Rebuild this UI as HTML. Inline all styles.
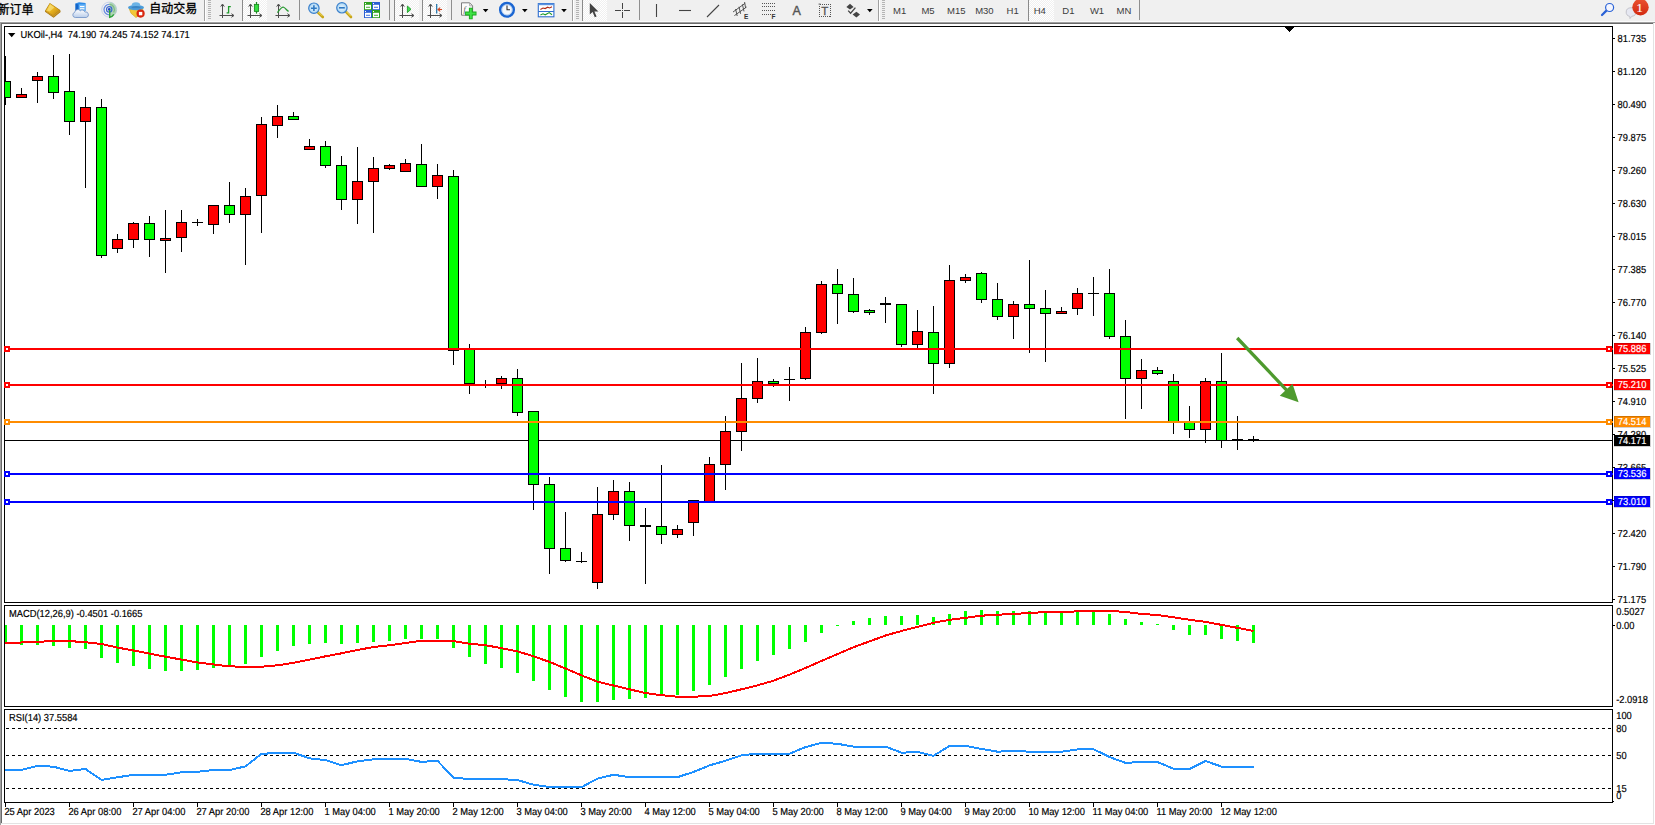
<!DOCTYPE html>
<html lang="zh"><head><meta charset="utf-8"><title>UKOil-,H4</title>
<style>
html,body{margin:0;padding:0;}
body{width:1655px;height:825px;overflow:hidden;background:#fff;position:relative;font-family:"Liberation Sans","Noto Sans CJK SC",sans-serif;}
#tb{position:absolute;left:0;top:0;width:1655px;height:21px;background:#f0f0f0;overflow:hidden;}
#frame{position:absolute;left:0;top:21px;width:1655px;height:804px;background:#fff;}
.ln{position:absolute;}
#chart{position:absolute;left:0;top:0;}
#tb .t{position:absolute;top:0;height:20px;line-height:19px;font-size:12px;color:#000;white-space:nowrap;}
#tb .tf{position:absolute;top:0;height:20px;line-height:20px;font-size:10px;color:#222;white-space:nowrap;text-align:center;width:28px;}
#tb svg{position:absolute;top:0;left:0;}
</style></head><body>
<div id="tb"><svg width="1655" height="21" viewBox="0 0 1655 21">
<defs>
<pattern id="chk" width="2" height="2" patternUnits="userSpaceOnUse"><rect width="2" height="2" fill="#f0f0f0"/><rect width="1" height="1" fill="#fff"/><rect x="1" y="1" width="1" height="1" fill="#fff"/></pattern>
<linearGradient id="gold" x1="0" y1="0" x2="1" y2="1"><stop offset="0" stop-color="#f7d44a"/><stop offset="0.5" stop-color="#e8b321"/><stop offset="1" stop-color="#b9820c"/></linearGradient>
<linearGradient id="redb" x1="0" y1="0" x2="0" y2="1"><stop offset="0" stop-color="#ea5230"/><stop offset="1" stop-color="#d22a10"/></linearGradient>
<linearGradient id="cloud" x1="0" y1="0" x2="0" y2="1"><stop offset="0" stop-color="#ffffff"/><stop offset="1" stop-color="#b9cdea"/></linearGradient>
<radialGradient id="lens"><stop offset="0" stop-color="#eaf6ff"/><stop offset="1" stop-color="#a9d4f2"/></radialGradient>
</defs>
<g font-family="'Liberation Sans','Noto Sans CJK SC',sans-serif">
<text x="-2.6" y="13.6" font-size="12px" fill="#000" stroke="#000" stroke-width="0.3">新订单</text>
<text x="149.3" y="13.2" font-size="12px" fill="#000" stroke="#000" stroke-width="0.3">自动交易</text>
</g>
<!-- book icon -->
<g>
<polygon points="49.8,3 60.2,10 60.6,12 53.6,17.8 45,11.8 45.2,10.6" fill="#a87508"/>
<polygon points="49.9,3.6 59.6,10.2 53,15.6 45.8,10.8" fill="url(#gold)"/>
<polygon points="53,15.6 59.6,10.2 60,11.6 53.6,17 46,11.9 45.8,10.8" fill="#c9972a"/>
<polygon points="50.2,4.6 54.4,7.4 49.6,11.6 47,10.4" fill="#fbe88a" opacity="0.6"/>
</g>
<!-- server + cloud -->
<g>
<polygon points="75.5,3.6 79,2.2 85.6,3 85.6,11 75.5,11" fill="#2d8be8"/>
<polygon points="75.5,3.6 78.2,4.6 78.2,11 75.5,11" fill="#1565c8"/>
<rect x="79" y="4.4" width="6.2" height="6.6" fill="#6db6f7"/>
<rect x="80" y="6" width="4.4" height="1.1" fill="#fff"/><rect x="80" y="8.2" width="4.4" height="1.1" fill="#fff"/>
<path d="M75.3 17.5 a2.6 2.6 0 0 1 -0.6 -5.1 a3.1 3.1 0 0 1 5.6 -1.6 a2.8 2.8 0 0 1 4.6 1.2 a2.8 2.8 0 0 1 1.4 5.5 z" fill="url(#cloud)" stroke="#6d8fc4" stroke-width="0.8"/>
</g>
<!-- signal -->
<g fill="none">
<circle cx="109.2" cy="9.6" r="7.5" stroke="#c3cde6" stroke-width="0.9"/>
<path d="M109.6 2.3 A7.4 7.4 0 0 1 112.6 16.2 L109.8 17.2 Z" fill="#9fd0a6" opacity="0.8"/>
<path d="M109.2 4.4 A5.2 5.2 0 0 0 109.2 14.8" stroke="#6a8ee0" stroke-width="1.3"/>
<path d="M109.2 4.4 A5.2 5.2 0 0 1 113.6 12.4" stroke="#7fb78a" stroke-width="1.2"/>
<circle cx="109.2" cy="9.4" r="2.7" stroke="#3d69cf" stroke-width="1.2"/>
<circle cx="109.2" cy="9.4" r="1.3" fill="#2447c4"/>
<path d="M109.7 10 L109.7 17.3 C111.6 16.9 113 15.8 113.8 14.4" stroke="#2fa33a" stroke-width="1.4"/>
</g>
<!-- hat / expert -->
<g>
<polygon points="129.2,8.6 143,8.6 141.4,13.4 136,17.6 131,13.2" fill="#f2c838" stroke="#d3a112" stroke-width="0.6"/>
<ellipse cx="136" cy="7.6" rx="8" ry="2.7" fill="#4c9cd9"/>
<ellipse cx="136" cy="5.4" rx="4.3" ry="3.2" fill="#6bb3e6"/>
<ellipse cx="136" cy="7.2" rx="4.6" ry="1.3" fill="#3a86c6"/>
<circle cx="140.6" cy="13.6" r="4.1" fill="#d8260f"/>
<rect x="138.9" y="11.9" width="3.4" height="3.4" fill="#fff"/>
</g>
<!-- separator + grip -->
<rect x="204" y="0" width="1" height="21" fill="#a0a0a0"/><rect x="205" y="0" width="1" height="21" fill="#fff"/>
<g fill="#b4b4b4"><rect x="208" y="0" width="3" height="1"/><rect x="208" y="2" width="3" height="1"/><rect x="208" y="4" width="3" height="1"/><rect x="208" y="6" width="3" height="1"/><rect x="208" y="8" width="3" height="1"/><rect x="208" y="10" width="3" height="1"/><rect x="208" y="12" width="3" height="1"/><rect x="208" y="14" width="3" height="1"/><rect x="208" y="16" width="3" height="1"/><rect x="208" y="18" width="3" height="1"/></g>
<!-- bar chart icon -->
<g stroke="#4d4d4d" stroke-width="1" fill="none">
<path d="M222.5 4.5 V18 M219.5 15.5 H233.5"/><path d="M220.7 6.6 L222.5 4 L224.3 6.6 M231.4 13.7 L234 15.5 L231.4 17.3" />
<path d="M226.6 12.8 H228.6 V6.6 H230.8" stroke="#1f9a2a" stroke-width="1.3"/>
</g>
<!-- candle icon pressed -->
<rect x="242" y="0" width="25" height="21" fill="url(#chk)"/><rect x="242" y="0" width="1" height="21" fill="#8a8a8a"/>
<g stroke="#4d4d4d" stroke-width="1" fill="none">
<path d="M250.5 4.5 V18 M247.5 15.5 H261.5"/><path d="M248.7 6.6 L250.5 4 L252.3 6.6 M259.4 13.7 L262 15.5 L259.4 17.3"/>
<path d="M256.5 2 V13.6" stroke="#1f8a24" stroke-width="1.2"/><rect x="254.4" y="4.4" width="4.2" height="7" fill="#35e040" stroke="#1f8a24" stroke-width="0.9"/>
</g>
<!-- line chart icon -->
<g stroke="#4d4d4d" stroke-width="1" fill="none">
<path d="M278.5 4.5 V18 M275.5 15.5 H289.5"/><path d="M276.7 6.6 L278.5 4 L280.3 6.6 M287.4 13.7 L290 15.5 L287.4 17.3"/>
<path d="M277.4 12.6 C280 9 282 6.6 283.6 7.2 C285.4 7.9 286.6 10.4 288.6 11.4" stroke="#2a9a33" stroke-width="1.2"/>
</g>
<rect x="299" y="0" width="1" height="20" fill="#8f8f8f"/>
<!-- zoom in -->
<g>
<path d="M317.6 12 L322.8 17" stroke="#c7a415" stroke-width="2.6" stroke-linecap="round"/><path d="M318 11.6 L322.6 16.2" stroke="#f2dc63" stroke-width="1"/>
<circle cx="313.9" cy="8.2" r="5.2" fill="url(#lens)" stroke="#3b80cc" stroke-width="1.2"/>
<path d="M311 8.2 H316.8 M313.9 5.3 V11.1" stroke="#2f78c2" stroke-width="1.6"/>
</g>
<!-- zoom out -->
<g>
<path d="M345.8 11.6 L351 17" stroke="#c7a415" stroke-width="2.6" stroke-linecap="round"/><path d="M346.2 11.4 L350.8 16.2" stroke="#f2dc63" stroke-width="1"/>
<circle cx="341.9" cy="7.8" r="5.2" fill="url(#lens)" stroke="#3b80cc" stroke-width="1.2"/>
<path d="M339 7.8 H344.8" stroke="#2f78c2" stroke-width="1.6"/>
</g>
<!-- grid icon -->
<g>
<rect x="364" y="2" width="8" height="8" fill="#2fa01f"/><rect x="372" y="2" width="8" height="8" fill="#2a5fd4"/>
<rect x="364" y="10" width="8" height="8" fill="#2a5fd4"/><rect x="372" y="10" width="8" height="8" fill="#2fa01f"/>
<g fill="#fff"><rect x="365" y="4.8" width="6" height="4.4"/><rect x="373" y="4.8" width="6" height="4.4"/><rect x="365" y="12.8" width="6" height="4.4"/><rect x="373" y="12.8" width="6" height="4.4"/><rect x="365" y="3" width="1" height="1"/><rect x="373" y="3" width="1" height="1"/><rect x="365" y="11" width="1" height="1"/><rect x="373" y="11" width="1" height="1"/></g>
<g><rect x="366" y="6.8" width="4" height="0.9" fill="#2fa01f"/><rect x="374" y="6.8" width="4" height="0.9" fill="#2a5fd4"/><rect x="366" y="14.8" width="4" height="0.9" fill="#2a5fd4"/><rect x="374" y="14.8" width="4" height="0.9" fill="#2fa01f"/></g>
</g>
<rect x="389" y="0" width="1" height="20" fill="#8f8f8f"/>
<!-- autoscroll pressed -->
<rect x="394" y="0" width="25" height="21" fill="url(#chk)"/><rect x="394" y="0" width="1" height="21" fill="#8a8a8a"/>
<g stroke="#4d4d4d" stroke-width="1" fill="none">
<path d="M402.5 4.5 V18 M399.5 15.5 H413.5"/><path d="M400.7 6.6 L402.5 4 L404.3 6.6 M411.4 13.7 L414 15.5 L411.4 17.3"/>
<polygon points="407.4,6 411,9.3 407.4,12.6" fill="#3fe04a" stroke="#1f9a2a" stroke-width="0.9"/>
</g>
<!-- shift pressed -->
<rect x="422" y="0" width="25" height="21" fill="url(#chk)"/><rect x="422" y="0" width="1" height="21" fill="#8a8a8a"/>
<g stroke="#4d4d4d" stroke-width="1" fill="none">
<path d="M430.5 4.5 V18 M427.5 15.5 H441.5"/><path d="M428.7 6.6 L430.5 4 L432.3 6.6 M439.4 13.7 L442 15.5 L439.4 17.3"/>
<path d="M436.7 4 V13.6" stroke="#1a6fa8" stroke-width="1.2"/>
<path d="M442 9.5 H438.4 M440.2 7.6 L438 9.5 L440.2 11.4" stroke="#d2451e" stroke-width="1.1"/>
</g>
<rect x="451" y="0" width="1" height="20" fill="#8f8f8f"/>
<!-- indicators -->
<g>
<path d="M461.5 2.8 H469.6 L472.6 5.8 V15.2 H461.5 Z" fill="#fbfbfb" stroke="#6e6e6e" stroke-width="0.9"/>
<path d="M469.6 2.8 V5.8 H472.6" fill="none" stroke="#9a9a9a" stroke-width="0.8"/>
<text x="463.6" y="11.6" font-size="8px" font-style="italic" font-family="'Liberation Serif',serif" fill="#555">f</text>
<path d="M470.8 7.8 V19.2 M465.1 13.5 H476.5" stroke="#18a51c" stroke-width="3.8"/><path d="M470.8 8.6 V18.4 M465.9 13.5 H475.7" stroke="#3fe245" stroke-width="2"/>
<polygon points="482.8,9 488.4,9 485.6,12.2" fill="#000"/>
</g>
<!-- clock -->
<g>
<circle cx="507" cy="9.8" r="6.8" fill="#f4f7fb" stroke="#1b66d2" stroke-width="2.5"/>
<circle cx="507" cy="9.8" r="5.2" fill="none" stroke="#9cc0ee" stroke-width="0.8"/>
<path d="M507 5.4 V9.8 H510" stroke="#333" stroke-width="1.1" fill="none"/>
<polygon points="522,9 527.6,9 524.8,12.2" fill="#000"/>
</g>
<!-- template -->
<g>
<rect x="538.3" y="3.6" width="15.6" height="13.2" fill="#fff" stroke="#2f6fcf" stroke-width="1.1"/>
<rect x="538.3" y="3.6" width="15.6" height="1.6" fill="#5b93e0"/>
<rect x="538.3" y="11" width="15.6" height="1" fill="#2f6fcf"/>
<path d="M540.4 9.4 L543 8 L545.2 8.6 L547.6 7.2 L549.6 8 L552 6.8" stroke="#b22a16" stroke-width="1.1" fill="none"/>
<path d="M540.4 15 L543 13.8 L545.2 14.8 L547.6 13.4 L549.2 12.6 L552 14.8" stroke="#1f9a2a" stroke-width="1.1" fill="none"/>
<polygon points="561.2,9 566.8,9 564,12.2" fill="#000"/>
</g>
<rect x="572" y="0" width="1" height="21" fill="#a0a0a0"/><rect x="573" y="0" width="1" height="21" fill="#fff"/>
<g fill="#b4b4b4"><rect x="576" y="0" width="3" height="1"/><rect x="576" y="2" width="3" height="1"/><rect x="576" y="4" width="3" height="1"/><rect x="576" y="6" width="3" height="1"/><rect x="576" y="8" width="3" height="1"/><rect x="576" y="10" width="3" height="1"/><rect x="576" y="12" width="3" height="1"/><rect x="576" y="14" width="3" height="1"/><rect x="576" y="16" width="3" height="1"/><rect x="576" y="18" width="3" height="1"/></g>
<!-- cursor pressed -->
<rect x="582" y="0" width="25" height="21" fill="url(#chk)"/><rect x="582" y="0" width="1" height="21" fill="#8a8a8a"/>
<polygon points="589.8,3 589.8,14.6 592.6,12 594.8,17.2 596.6,16.4 594.4,11.4 598.4,11.4" fill="#444"/>
<!-- crosshair -->
<path d="M615 10.5 H621 M624 10.5 H630 M622.5 3 V9 M622.5 12 V18" stroke="#444" stroke-width="1" fill="none"/><rect x="622" y="10" width="1" height="1" fill="#444"/>
<rect x="639" y="0" width="1" height="20" fill="#8f8f8f"/>
<path d="M656.5 4 V17" stroke="#444" stroke-width="1.1"/>
<path d="M679 10.5 H691" stroke="#444" stroke-width="1.1"/>
<path d="M707 17 L719 5" stroke="#444" stroke-width="1.1"/>
<!-- channel -->
<g stroke="#444" stroke-width="0.9" fill="none">
<path d="M733 12 L745 3.4 M734.4 15.6 L746.6 7 M735.6 9 L737.2 16 M739 6.8 L740.6 13.8 M742.4 4.4 L744 11.4 M744.6 2 L745.6 8"/>
</g>
<text x="744" y="18.6" font-size="6.5px" font-weight="bold" font-family="'Liberation Sans',sans-serif" fill="#333">E</text>
<!-- fibo -->
<g stroke="#555" stroke-width="1" stroke-dasharray="1,1" fill="none"><path d="M762 3.5 H775 M762 6.5 H775 M762 10.5 H775 M762 14.5 H771"/></g>
<text x="771.6" y="18.6" font-size="6.5px" font-weight="bold" font-family="'Liberation Sans',sans-serif" fill="#333">F</text>
<text x="792.4" y="15" font-size="12.5px" font-family="'Liberation Sans',sans-serif" fill="#555" stroke="#555" stroke-width="0.4">A</text>
<rect x="819.5" y="4.5" width="11" height="12" fill="none" stroke="#555" stroke-width="1" stroke-dasharray="1,1" shape-rendering="crispEdges"/><rect x="818.6" y="3.6" width="2" height="1" fill="#555"/>
<text x="821.2" y="15" font-size="11.5px" font-family="'Liberation Sans',sans-serif" fill="#555" stroke="#555" stroke-width="0.3">T</text>
<!-- arrows icon -->
<g fill="#444">
<polygon points="846.4,7 850,3.8 853.6,7 850,9.4"/><polygon points="852.6,14.4 856.4,11.8 860,14.4 856.4,17.6"/>
<path d="M848.2 10.6 L850.6 13.2 L855.4 7.6" stroke="#444" stroke-width="1.3" fill="none"/>
<polygon points="867,9 872.6,9 869.8,12.2" fill="#000"/>
</g>
<rect x="878" y="0" width="1" height="21" fill="#a0a0a0"/><rect x="879" y="0" width="1" height="21" fill="#fff"/>
<g fill="#b4b4b4"><rect x="882" y="0" width="3" height="1"/><rect x="882" y="2" width="3" height="1"/><rect x="882" y="4" width="3" height="1"/><rect x="882" y="6" width="3" height="1"/><rect x="882" y="8" width="3" height="1"/><rect x="882" y="10" width="3" height="1"/><rect x="882" y="12" width="3" height="1"/><rect x="882" y="14" width="3" height="1"/><rect x="882" y="16" width="3" height="1"/><rect x="882" y="18" width="3" height="1"/></g>
<!-- timeframes -->
<rect x="1028" y="0" width="26" height="21" fill="url(#chk)"/><rect x="1028" y="0" width="1" height="21" fill="#8a8a8a"/>
<g font-family="'Liberation Sans',sans-serif" font-size="9.5px" fill="#3c3c3c" text-anchor="middle">
<text x="899.7" y="13.8">M1</text><text x="928" y="13.8">M5</text><text x="956.3" y="13.8">M15</text><text x="984.4" y="13.8">M30</text><text x="1012.7" y="13.8">H1</text><text x="1039.8" y="13.8">H4</text><text x="1068.4" y="13.8">D1</text><text x="1097" y="13.8">W1</text><text x="1124" y="13.8">MN</text>
</g>
<rect x="1139" y="0" width="1" height="20" fill="#8f8f8f"/>
<!-- search -->
<g fill="none">
<path d="M1606.4 10.6 L1602 15" stroke="#2a62d6" stroke-width="2.2" stroke-linecap="round"/>
<circle cx="1609.6" cy="7.5" r="4" fill="#f4f6ff" stroke="#2a62d6" stroke-width="1.2"/>
</g>
<!-- chat + badge -->
<g>
<path d="M1626.2 12 a4.9 4.3 0 1 1 5.6 4.3 l-1.8 2.2 l-0.2 -2.1 a4.9 4.3 0 0 1 -3.6 -4.4 z" fill="#e6e8f2" stroke="#b9b9c2" stroke-width="0.8"/>
<circle cx="1640.5" cy="7.2" r="8.2" fill="url(#redb)"/>
<text x="1639.6" y="11.6" font-size="12.5px" font-family="'Liberation Serif',serif" fill="#fff" stroke="#fff" stroke-width="0.15" text-anchor="middle">1</text>
</g>
</svg>
</div>
<div class="ln" style="left:0;top:21px;width:1655px;height:1px;background:#fbfbfb"></div>
<div class="ln" style="left:0;top:22px;width:1655px;height:1px;background:#a0a0a0"></div>
<div class="ln" style="left:1px;top:23px;width:1653px;height:1px;background:#696969"></div>
<div class="ln" style="left:0;top:22px;width:1px;height:803px;background:#a0a0a0"></div>
<div class="ln" style="left:1px;top:23px;width:1px;height:801px;background:#696969"></div>
<div class="ln" style="left:1653px;top:23px;width:1px;height:801px;background:#e3e3e3"></div>
<div class="ln" style="left:1px;top:823px;width:1653px;height:1px;background:#e3e3e3"></div>
<svg id="chart" width="1655" height="825" viewBox="0 0 1655 825" shape-rendering="crispEdges"><rect x="5" y="440" width="1607" height="1" fill="#000"/><rect x="5" y="56" width="1" height="49" fill="#000"/><rect x="5" y="81" width="6" height="17" fill="#000"/><rect x="5" y="82" width="5" height="15" fill="#00ff00"/><rect x="21" y="88" width="1" height="10" fill="#000"/><rect x="16" y="94" width="11" height="4" fill="#000"/><rect x="17" y="95" width="9" height="2" fill="#ff0000"/><rect x="37" y="72" width="1" height="31" fill="#000"/><rect x="32" y="76" width="11" height="5" fill="#000"/><rect x="33" y="77" width="9" height="3" fill="#ff0000"/><rect x="53" y="55" width="1" height="44" fill="#000"/><rect x="48" y="76" width="11" height="17" fill="#000"/><rect x="49" y="77" width="9" height="15" fill="#00ff00"/><rect x="69" y="54" width="1" height="81" fill="#000"/><rect x="64" y="91" width="11" height="31" fill="#000"/><rect x="65" y="92" width="9" height="29" fill="#00ff00"/><rect x="85" y="97" width="1" height="91" fill="#000"/><rect x="80" y="107" width="11" height="15" fill="#000"/><rect x="81" y="108" width="9" height="13" fill="#ff0000"/><rect x="101" y="99" width="1" height="159" fill="#000"/><rect x="96" y="107" width="11" height="149" fill="#000"/><rect x="97" y="108" width="9" height="147" fill="#00ff00"/><rect x="117" y="234" width="1" height="19" fill="#000"/><rect x="112" y="239" width="11" height="10" fill="#000"/><rect x="113" y="240" width="9" height="8" fill="#ff0000"/><rect x="133" y="222" width="1" height="26" fill="#000"/><rect x="128" y="223" width="11" height="17" fill="#000"/><rect x="129" y="224" width="9" height="15" fill="#ff0000"/><rect x="149" y="216" width="1" height="41" fill="#000"/><rect x="144" y="223" width="11" height="17" fill="#000"/><rect x="145" y="224" width="9" height="15" fill="#00ff00"/><rect x="165" y="210" width="1" height="63" fill="#000"/><rect x="160" y="238" width="11" height="3" fill="#000"/><rect x="161" y="239" width="9" height="1" fill="#ff0000"/><rect x="181" y="210" width="1" height="42" fill="#000"/><rect x="176" y="222" width="11" height="16" fill="#000"/><rect x="177" y="223" width="9" height="14" fill="#ff0000"/><rect x="197" y="219" width="1" height="7" fill="#000"/><rect x="192" y="222" width="11" height="1" fill="#000"/><rect x="213" y="205" width="1" height="29" fill="#000"/><rect x="208" y="205" width="11" height="20" fill="#000"/><rect x="209" y="206" width="9" height="18" fill="#ff0000"/><rect x="229" y="182" width="1" height="41" fill="#000"/><rect x="224" y="205" width="11" height="10" fill="#000"/><rect x="225" y="206" width="9" height="8" fill="#00ff00"/><rect x="245" y="188" width="1" height="77" fill="#000"/><rect x="240" y="196" width="11" height="19" fill="#000"/><rect x="241" y="197" width="9" height="17" fill="#ff0000"/><rect x="261" y="117" width="1" height="116" fill="#000"/><rect x="256" y="124" width="11" height="72" fill="#000"/><rect x="257" y="125" width="9" height="70" fill="#ff0000"/><rect x="277" y="105" width="1" height="33" fill="#000"/><rect x="272" y="116" width="11" height="10" fill="#000"/><rect x="273" y="117" width="9" height="8" fill="#ff0000"/><rect x="293" y="112" width="1" height="8" fill="#000"/><rect x="288" y="116" width="11" height="4" fill="#000"/><rect x="289" y="117" width="9" height="2" fill="#00ff00"/><rect x="309" y="139" width="1" height="11" fill="#000"/><rect x="304" y="146" width="11" height="4" fill="#000"/><rect x="305" y="147" width="9" height="2" fill="#ff0000"/><rect x="325" y="141" width="1" height="27" fill="#000"/><rect x="320" y="146" width="11" height="20" fill="#000"/><rect x="321" y="147" width="9" height="18" fill="#00ff00"/><rect x="341" y="156" width="1" height="54" fill="#000"/><rect x="336" y="165" width="11" height="35" fill="#000"/><rect x="337" y="166" width="9" height="33" fill="#00ff00"/><rect x="357" y="147" width="1" height="77" fill="#000"/><rect x="352" y="181" width="11" height="19" fill="#000"/><rect x="353" y="182" width="9" height="17" fill="#ff0000"/><rect x="373" y="157" width="1" height="76" fill="#000"/><rect x="368" y="168" width="11" height="14" fill="#000"/><rect x="369" y="169" width="9" height="12" fill="#ff0000"/><rect x="389" y="164" width="1" height="6" fill="#000"/><rect x="384" y="165" width="11" height="4" fill="#000"/><rect x="385" y="166" width="9" height="2" fill="#ff0000"/><rect x="405" y="159" width="1" height="13" fill="#000"/><rect x="400" y="163" width="11" height="9" fill="#000"/><rect x="401" y="164" width="9" height="7" fill="#ff0000"/><rect x="421" y="144" width="1" height="43" fill="#000"/><rect x="416" y="164" width="11" height="23" fill="#000"/><rect x="417" y="165" width="9" height="21" fill="#00ff00"/><rect x="437" y="164" width="1" height="35" fill="#000"/><rect x="432" y="175" width="11" height="12" fill="#000"/><rect x="433" y="176" width="9" height="10" fill="#ff0000"/><rect x="453" y="170" width="1" height="195" fill="#000"/><rect x="448" y="176" width="11" height="175" fill="#000"/><rect x="449" y="177" width="9" height="173" fill="#00ff00"/><rect x="469" y="344" width="1" height="50" fill="#000"/><rect x="464" y="349" width="11" height="35" fill="#000"/><rect x="465" y="350" width="9" height="33" fill="#00ff00"/><rect x="485" y="380" width="1" height="8" fill="#000"/><rect x="480" y="384" width="11" height="2" fill="#000"/><rect x="501" y="376" width="1" height="13" fill="#000"/><rect x="496" y="378" width="11" height="6" fill="#000"/><rect x="497" y="379" width="9" height="4" fill="#ff0000"/><rect x="517" y="369" width="1" height="47" fill="#000"/><rect x="512" y="378" width="11" height="35" fill="#000"/><rect x="513" y="379" width="9" height="33" fill="#00ff00"/><rect x="533" y="411" width="1" height="99" fill="#000"/><rect x="528" y="411" width="11" height="74" fill="#000"/><rect x="529" y="412" width="9" height="72" fill="#00ff00"/><rect x="549" y="477" width="1" height="97" fill="#000"/><rect x="544" y="484" width="11" height="65" fill="#000"/><rect x="545" y="485" width="9" height="63" fill="#00ff00"/><rect x="565" y="512" width="1" height="50" fill="#000"/><rect x="560" y="548" width="11" height="13" fill="#000"/><rect x="561" y="549" width="9" height="11" fill="#00ff00"/><rect x="581" y="552" width="1" height="11" fill="#000"/><rect x="576" y="561" width="11" height="1" fill="#000"/><rect x="597" y="487" width="1" height="102" fill="#000"/><rect x="592" y="514" width="11" height="69" fill="#000"/><rect x="593" y="515" width="9" height="67" fill="#ff0000"/><rect x="613" y="480" width="1" height="40" fill="#000"/><rect x="608" y="491" width="11" height="24" fill="#000"/><rect x="609" y="492" width="9" height="22" fill="#ff0000"/><rect x="629" y="482" width="1" height="59" fill="#000"/><rect x="624" y="491" width="11" height="35" fill="#000"/><rect x="625" y="492" width="9" height="33" fill="#00ff00"/><rect x="645" y="508" width="1" height="76" fill="#000"/><rect x="640" y="525" width="11" height="2" fill="#000"/><rect x="661" y="465" width="1" height="79" fill="#000"/><rect x="656" y="526" width="11" height="9" fill="#000"/><rect x="657" y="527" width="9" height="7" fill="#00ff00"/><rect x="677" y="525" width="1" height="13" fill="#000"/><rect x="672" y="529" width="11" height="6" fill="#000"/><rect x="673" y="530" width="9" height="4" fill="#ff0000"/><rect x="693" y="500" width="1" height="36" fill="#000"/><rect x="688" y="500" width="11" height="23" fill="#000"/><rect x="689" y="501" width="9" height="21" fill="#ff0000"/><rect x="709" y="457" width="1" height="45" fill="#000"/><rect x="704" y="464" width="11" height="38" fill="#000"/><rect x="705" y="465" width="9" height="36" fill="#ff0000"/><rect x="725" y="416" width="1" height="74" fill="#000"/><rect x="720" y="431" width="11" height="34" fill="#000"/><rect x="721" y="432" width="9" height="32" fill="#ff0000"/><rect x="741" y="363" width="1" height="88" fill="#000"/><rect x="736" y="398" width="11" height="34" fill="#000"/><rect x="737" y="399" width="9" height="32" fill="#ff0000"/><rect x="757" y="358" width="1" height="45" fill="#000"/><rect x="752" y="381" width="11" height="18" fill="#000"/><rect x="753" y="382" width="9" height="16" fill="#ff0000"/><rect x="773" y="379" width="1" height="8" fill="#000"/><rect x="768" y="381" width="11" height="3" fill="#000"/><rect x="769" y="382" width="9" height="1" fill="#00ff00"/><rect x="789" y="367" width="1" height="34" fill="#000"/><rect x="784" y="379" width="11" height="1" fill="#000"/><rect x="805" y="327" width="1" height="53" fill="#000"/><rect x="800" y="332" width="11" height="47" fill="#000"/><rect x="801" y="333" width="9" height="45" fill="#ff0000"/><rect x="821" y="281" width="1" height="53" fill="#000"/><rect x="816" y="284" width="11" height="49" fill="#000"/><rect x="817" y="285" width="9" height="47" fill="#ff0000"/><rect x="837" y="269" width="1" height="55" fill="#000"/><rect x="832" y="284" width="11" height="10" fill="#000"/><rect x="833" y="285" width="9" height="8" fill="#00ff00"/><rect x="853" y="278" width="1" height="35" fill="#000"/><rect x="848" y="294" width="11" height="18" fill="#000"/><rect x="849" y="295" width="9" height="16" fill="#00ff00"/><rect x="869" y="309" width="1" height="6" fill="#000"/><rect x="864" y="310" width="11" height="3" fill="#000"/><rect x="865" y="311" width="9" height="1" fill="#00ff00"/><rect x="885" y="297" width="1" height="26" fill="#000"/><rect x="880" y="303" width="11" height="2" fill="#000"/><rect x="901" y="304" width="1" height="43" fill="#000"/><rect x="896" y="304" width="11" height="41" fill="#000"/><rect x="897" y="305" width="9" height="39" fill="#00ff00"/><rect x="917" y="310" width="1" height="38" fill="#000"/><rect x="912" y="331" width="11" height="14" fill="#000"/><rect x="913" y="332" width="9" height="12" fill="#ff0000"/><rect x="933" y="306" width="1" height="88" fill="#000"/><rect x="928" y="332" width="11" height="32" fill="#000"/><rect x="929" y="333" width="9" height="30" fill="#00ff00"/><rect x="949" y="265" width="1" height="103" fill="#000"/><rect x="944" y="280" width="11" height="84" fill="#000"/><rect x="945" y="281" width="9" height="82" fill="#ff0000"/><rect x="965" y="274" width="1" height="9" fill="#000"/><rect x="960" y="277" width="11" height="4" fill="#000"/><rect x="961" y="278" width="9" height="2" fill="#ff0000"/><rect x="981" y="272" width="1" height="31" fill="#000"/><rect x="976" y="273" width="11" height="27" fill="#000"/><rect x="977" y="274" width="9" height="25" fill="#00ff00"/><rect x="997" y="283" width="1" height="37" fill="#000"/><rect x="992" y="299" width="11" height="18" fill="#000"/><rect x="993" y="300" width="9" height="16" fill="#00ff00"/><rect x="1013" y="301" width="1" height="38" fill="#000"/><rect x="1008" y="304" width="11" height="13" fill="#000"/><rect x="1009" y="305" width="9" height="11" fill="#ff0000"/><rect x="1029" y="260" width="1" height="93" fill="#000"/><rect x="1024" y="304" width="11" height="5" fill="#000"/><rect x="1025" y="305" width="9" height="3" fill="#00ff00"/><rect x="1045" y="290" width="1" height="72" fill="#000"/><rect x="1040" y="308" width="11" height="6" fill="#000"/><rect x="1041" y="309" width="9" height="4" fill="#00ff00"/><rect x="1061" y="307" width="1" height="7" fill="#000"/><rect x="1056" y="311" width="11" height="3" fill="#000"/><rect x="1057" y="312" width="9" height="1" fill="#ff0000"/><rect x="1077" y="288" width="1" height="27" fill="#000"/><rect x="1072" y="293" width="11" height="16" fill="#000"/><rect x="1073" y="294" width="9" height="14" fill="#ff0000"/><rect x="1093" y="277" width="1" height="39" fill="#000"/><rect x="1088" y="293" width="11" height="1" fill="#000"/><rect x="1109" y="269" width="1" height="70" fill="#000"/><rect x="1104" y="293" width="11" height="44" fill="#000"/><rect x="1105" y="294" width="9" height="42" fill="#00ff00"/><rect x="1125" y="320" width="1" height="99" fill="#000"/><rect x="1120" y="336" width="11" height="43" fill="#000"/><rect x="1121" y="337" width="9" height="41" fill="#00ff00"/><rect x="1141" y="359" width="1" height="50" fill="#000"/><rect x="1136" y="370" width="11" height="9" fill="#000"/><rect x="1137" y="371" width="9" height="7" fill="#ff0000"/><rect x="1157" y="367" width="1" height="8" fill="#000"/><rect x="1152" y="370" width="11" height="4" fill="#000"/><rect x="1153" y="371" width="9" height="2" fill="#00ff00"/><rect x="1173" y="374" width="1" height="60" fill="#000"/><rect x="1168" y="381" width="11" height="41" fill="#000"/><rect x="1169" y="382" width="9" height="39" fill="#00ff00"/><rect x="1189" y="406" width="1" height="32" fill="#000"/><rect x="1184" y="421" width="11" height="9" fill="#000"/><rect x="1185" y="422" width="9" height="7" fill="#00ff00"/><rect x="1205" y="378" width="1" height="65" fill="#000"/><rect x="1200" y="381" width="11" height="49" fill="#000"/><rect x="1201" y="382" width="9" height="47" fill="#ff0000"/><rect x="1221" y="353" width="1" height="95" fill="#000"/><rect x="1216" y="381" width="11" height="60" fill="#000"/><rect x="1217" y="382" width="9" height="58" fill="#00ff00"/><rect x="1237" y="416" width="1" height="34" fill="#000"/><rect x="1232" y="439" width="11" height="2" fill="#000"/><rect x="1253" y="436" width="1" height="6" fill="#000"/><rect x="1248" y="439" width="11" height="2" fill="#000"/><rect x="5" y="348" width="1607" height="2" fill="#ff0000"/><rect x="5" y="384" width="1607" height="2" fill="#ff0000"/><rect x="5" y="421" width="1607" height="2" fill="#ff8c00"/><rect x="5" y="473" width="1607" height="2" fill="#0000ff"/><rect x="5" y="501" width="1607" height="2" fill="#0000ff"/><g shape-rendering="geometricPrecision"><line x1="1237.2" y1="338" x2="1288" y2="391.6" stroke="#4e9a2e" stroke-width="3.3"/><polygon points="1298.6,402.3 1292.5,383.7 1279.8,395.8" fill="#4e9a2e"/></g><rect x="1285" y="27" width="9" height="1" fill="#000"/><rect x="1286" y="28" width="7" height="1" fill="#000"/><rect x="1287" y="29" width="5" height="1" fill="#000"/><rect x="1288" y="30" width="3" height="1" fill="#000"/><rect x="1289" y="31" width="1" height="1" fill="#000"/><polygon points="8,33 15.4,33 11.7,37.2" fill="#000" shape-rendering="geometricPrecision"/><rect x="4" y="26" width="1609" height="1" fill="#000"/><rect x="4" y="602" width="1609" height="1" fill="#000"/><rect x="4" y="26" width="1" height="577" fill="#000"/><rect x="1612" y="26" width="1" height="577" fill="#000"/><rect x="4" y="605" width="1609" height="1" fill="#000"/><rect x="4" y="706" width="1609" height="1" fill="#000"/><rect x="4" y="605" width="1" height="102" fill="#000"/><rect x="1612" y="605" width="1" height="102" fill="#000"/><rect x="4" y="709" width="1609" height="1" fill="#000"/><rect x="4" y="802" width="1609" height="1" fill="#000"/><rect x="4" y="709" width="1" height="94" fill="#000"/><rect x="1612" y="709" width="1" height="94" fill="#000"/><rect x="4" y="346" width="6" height="6" fill="#ff0000"/><rect x="6" y="348" width="2" height="2" fill="#fff"/><rect x="1606" y="346" width="6" height="6" fill="#ff0000"/><rect x="1608" y="348" width="2" height="2" fill="#fff"/><rect x="1612" y="348" width="1" height="2" fill="#ff0000"/><rect x="4" y="382" width="6" height="6" fill="#ff0000"/><rect x="6" y="384" width="2" height="2" fill="#fff"/><rect x="1606" y="382" width="6" height="6" fill="#ff0000"/><rect x="1608" y="384" width="2" height="2" fill="#fff"/><rect x="1612" y="384" width="1" height="2" fill="#ff0000"/><rect x="4" y="419" width="6" height="6" fill="#ff8c00"/><rect x="6" y="421" width="2" height="2" fill="#fff"/><rect x="1606" y="419" width="6" height="6" fill="#ff8c00"/><rect x="1608" y="421" width="2" height="2" fill="#fff"/><rect x="1612" y="421" width="1" height="2" fill="#ff8c00"/><rect x="4" y="471" width="6" height="6" fill="#0000ff"/><rect x="6" y="473" width="2" height="2" fill="#fff"/><rect x="1606" y="471" width="6" height="6" fill="#0000ff"/><rect x="1608" y="473" width="2" height="2" fill="#fff"/><rect x="1612" y="473" width="1" height="2" fill="#0000ff"/><rect x="4" y="499" width="6" height="6" fill="#0000ff"/><rect x="6" y="501" width="2" height="2" fill="#fff"/><rect x="1606" y="499" width="6" height="6" fill="#0000ff"/><rect x="1608" y="501" width="2" height="2" fill="#fff"/><rect x="1612" y="501" width="1" height="2" fill="#0000ff"/><rect x="5" y="625" width="2" height="18" fill="#00ff00"/><rect x="20" y="625" width="3" height="20" fill="#00ff00"/><rect x="36" y="625" width="3" height="20" fill="#00ff00"/><rect x="52" y="625" width="3" height="21" fill="#00ff00"/><rect x="68" y="625" width="3" height="23" fill="#00ff00"/><rect x="84" y="625" width="3" height="24" fill="#00ff00"/><rect x="100" y="625" width="3" height="33" fill="#00ff00"/><rect x="116" y="625" width="3" height="38" fill="#00ff00"/><rect x="132" y="625" width="3" height="41" fill="#00ff00"/><rect x="148" y="625" width="3" height="44" fill="#00ff00"/><rect x="164" y="625" width="3" height="46" fill="#00ff00"/><rect x="180" y="625" width="3" height="46" fill="#00ff00"/><rect x="196" y="625" width="3" height="45" fill="#00ff00"/><rect x="212" y="625" width="3" height="43" fill="#00ff00"/><rect x="228" y="625" width="3" height="41" fill="#00ff00"/><rect x="244" y="625" width="3" height="39" fill="#00ff00"/><rect x="260" y="625" width="3" height="32" fill="#00ff00"/><rect x="276" y="625" width="3" height="26" fill="#00ff00"/><rect x="292" y="625" width="3" height="21" fill="#00ff00"/><rect x="308" y="625" width="3" height="19" fill="#00ff00"/><rect x="324" y="625" width="3" height="18" fill="#00ff00"/><rect x="340" y="625" width="3" height="19" fill="#00ff00"/><rect x="356" y="625" width="3" height="18" fill="#00ff00"/><rect x="372" y="625" width="3" height="17" fill="#00ff00"/><rect x="388" y="625" width="3" height="16" fill="#00ff00"/><rect x="404" y="625" width="3" height="14" fill="#00ff00"/><rect x="420" y="625" width="3" height="14" fill="#00ff00"/><rect x="436" y="625" width="3" height="14" fill="#00ff00"/><rect x="452" y="625" width="3" height="23" fill="#00ff00"/><rect x="468" y="625" width="3" height="32" fill="#00ff00"/><rect x="484" y="625" width="3" height="39" fill="#00ff00"/><rect x="500" y="625" width="3" height="43" fill="#00ff00"/><rect x="516" y="625" width="3" height="48" fill="#00ff00"/><rect x="532" y="625" width="3" height="56" fill="#00ff00"/><rect x="548" y="625" width="3" height="65" fill="#00ff00"/><rect x="564" y="625" width="3" height="72" fill="#00ff00"/><rect x="580" y="625" width="3" height="77" fill="#00ff00"/><rect x="596" y="625" width="3" height="77" fill="#00ff00"/><rect x="612" y="625" width="3" height="75" fill="#00ff00"/><rect x="628" y="625" width="3" height="74" fill="#00ff00"/><rect x="644" y="625" width="3" height="73" fill="#00ff00"/><rect x="660" y="625" width="3" height="71" fill="#00ff00"/><rect x="676" y="625" width="3" height="70" fill="#00ff00"/><rect x="692" y="625" width="3" height="66" fill="#00ff00"/><rect x="708" y="625" width="3" height="60" fill="#00ff00"/><rect x="724" y="625" width="3" height="52" fill="#00ff00"/><rect x="740" y="625" width="3" height="44" fill="#00ff00"/><rect x="756" y="625" width="3" height="36" fill="#00ff00"/><rect x="772" y="625" width="3" height="30" fill="#00ff00"/><rect x="788" y="625" width="3" height="24" fill="#00ff00"/><rect x="804" y="625" width="3" height="17" fill="#00ff00"/><rect x="820" y="625" width="3" height="8" fill="#00ff00"/><rect x="836" y="625" width="3" height="1" fill="#00ff00"/><rect x="852" y="621" width="3" height="4" fill="#00ff00"/><rect x="868" y="618" width="3" height="7" fill="#00ff00"/><rect x="884" y="616" width="3" height="9" fill="#00ff00"/><rect x="900" y="616" width="3" height="9" fill="#00ff00"/><rect x="916" y="615" width="3" height="10" fill="#00ff00"/><rect x="932" y="617" width="3" height="8" fill="#00ff00"/><rect x="948" y="614" width="3" height="11" fill="#00ff00"/><rect x="964" y="611" width="3" height="14" fill="#00ff00"/><rect x="980" y="610" width="3" height="15" fill="#00ff00"/><rect x="996" y="611" width="3" height="14" fill="#00ff00"/><rect x="1012" y="611" width="3" height="14" fill="#00ff00"/><rect x="1028" y="611" width="3" height="14" fill="#00ff00"/><rect x="1044" y="612" width="3" height="13" fill="#00ff00"/><rect x="1060" y="612" width="3" height="13" fill="#00ff00"/><rect x="1076" y="612" width="3" height="13" fill="#00ff00"/><rect x="1092" y="612" width="3" height="13" fill="#00ff00"/><rect x="1108" y="614" width="3" height="11" fill="#00ff00"/><rect x="1124" y="619" width="3" height="6" fill="#00ff00"/><rect x="1140" y="622" width="3" height="3" fill="#00ff00"/><rect x="1156" y="624" width="3" height="1" fill="#00ff00"/><rect x="1172" y="625" width="3" height="5" fill="#00ff00"/><rect x="1188" y="625" width="3" height="10" fill="#00ff00"/><rect x="1204" y="625" width="3" height="10" fill="#00ff00"/><rect x="1220" y="625" width="3" height="14" fill="#00ff00"/><rect x="1236" y="625" width="3" height="16" fill="#00ff00"/><rect x="1252" y="625" width="3" height="18" fill="#00ff00"/><polyline points="5.5,642.9 21.5,642.5 37.5,641.8 53.5,641.1 69.5,641.1 85.5,642.2 101.5,644.0 117.5,647.6 133.5,650.5 149.5,653.6 165.5,656.7 181.5,659.6 197.5,662.4 213.5,664.4 229.5,666.4 245.5,666.7 261.5,666.7 277.5,665.3 293.5,662.9 309.5,659.6 325.5,656.3 341.5,653.3 357.5,650.0 373.5,647.0 389.5,645.2 405.5,643.1 421.5,640.6 437.5,640.6 453.5,641.1 469.5,643.7 485.5,645.2 501.5,648.2 517.5,651.3 533.5,656.3 549.5,661.9 565.5,668.5 581.5,675.4 597.5,681.7 613.5,685.5 629.5,689.3 645.5,693.1 661.5,695.2 677.5,696.7 693.5,696.7 709.5,696.0 725.5,693.1 741.5,689.3 757.5,685.3 773.5,680.7 789.5,674.6 805.5,668.0 821.5,660.9 837.5,654.1 853.5,647.2 869.5,641.4 885.5,635.5 901.5,631.0 917.5,626.9 933.5,622.8 949.5,619.8 965.5,617.8 981.5,615.7 997.5,614.7 1013.5,614.0 1029.5,612.9 1045.5,612.2 1061.5,611.9 1077.5,611.4 1093.5,610.9 1109.5,610.9 1125.5,611.9 1141.5,614.0 1157.5,615.0 1173.5,617.3 1189.5,619.8 1205.5,621.8 1221.5,624.9 1237.5,627.9 1253.5,631.0" fill="none" stroke="#ff0000" stroke-width="2" stroke-linejoin="round"/><line x1="6" y1="728.5" x2="1612" y2="728.5" stroke="#000" stroke-width="1" stroke-dasharray="3,3"/><line x1="6" y1="755.5" x2="1612" y2="755.5" stroke="#000" stroke-width="1" stroke-dasharray="3,3"/><line x1="6" y1="788.5" x2="1612" y2="788.5" stroke="#000" stroke-width="1" stroke-dasharray="3,3"/><polyline points="5.5,770.2 21.5,770.0 37.5,765.9 53.5,766.7 69.5,771.0 85.5,769.0 101.5,779.9 117.5,777.3 133.5,774.8 149.5,774.8 165.5,774.8 181.5,772.3 197.5,771.8 213.5,770.0 229.5,770.0 245.5,766.4 261.5,753.7 277.5,753.2 293.5,752.7 309.5,758.3 325.5,760.1 341.5,765.2 357.5,761.3 373.5,759.3 389.5,758.8 405.5,758.8 421.5,761.9 437.5,760.8 453.5,777.6 469.5,779.1 485.5,779.1 501.5,779.1 517.5,780.1 533.5,784.7 549.5,787.0 565.5,787.2 581.5,787.2 597.5,778.6 613.5,774.8 629.5,777.1 645.5,777.1 661.5,777.1 677.5,777.1 693.5,772.0 709.5,765.4 725.5,760.8 741.5,755.3 757.5,753.7 773.5,753.7 789.5,753.7 805.5,747.1 821.5,742.8 837.5,743.8 853.5,746.6 869.5,746.6 885.5,746.6 901.5,752.7 917.5,752.0 933.5,755.8 949.5,745.9 965.5,745.9 981.5,748.9 997.5,751.7 1013.5,750.9 1029.5,751.7 1045.5,751.7 1061.5,751.7 1077.5,749.4 1093.5,749.2 1109.5,757.0 1125.5,762.9 1141.5,761.9 1157.5,762.1 1173.5,768.7 1189.5,769.0 1205.5,761.0 1221.5,766.6 1237.5,766.6 1253.5,766.6" fill="none" stroke="#1e90ff" stroke-width="2" stroke-linejoin="round"/><rect x="1613" y="38" width="2" height="1" fill="#000"/><rect x="1613" y="71" width="2" height="1" fill="#000"/><rect x="1613" y="104" width="2" height="1" fill="#000"/><rect x="1613" y="137" width="2" height="1" fill="#000"/><rect x="1613" y="170" width="2" height="1" fill="#000"/><rect x="1613" y="203" width="2" height="1" fill="#000"/><rect x="1613" y="236" width="2" height="1" fill="#000"/><rect x="1613" y="269" width="2" height="1" fill="#000"/><rect x="1613" y="302" width="2" height="1" fill="#000"/><rect x="1613" y="335" width="2" height="1" fill="#000"/><rect x="1613" y="368" width="2" height="1" fill="#000"/><rect x="1613" y="401" width="2" height="1" fill="#000"/><rect x="1613" y="434" width="2" height="1" fill="#000"/><rect x="1613" y="467" width="2" height="1" fill="#000"/><rect x="1613" y="500" width="2" height="1" fill="#000"/><rect x="1613" y="533" width="2" height="1" fill="#000"/><rect x="1613" y="566" width="2" height="1" fill="#000"/><rect x="1613" y="599" width="2" height="1" fill="#000"/><rect x="1613" y="625" width="2" height="1" fill="#000"/><rect x="1613" y="801" width="1" height="1" fill="#000"/><rect x="5" y="803" width="1" height="4" fill="#000"/><rect x="69" y="803" width="1" height="4" fill="#000"/><rect x="133" y="803" width="1" height="4" fill="#000"/><rect x="197" y="803" width="1" height="4" fill="#000"/><rect x="261" y="803" width="1" height="4" fill="#000"/><rect x="325" y="803" width="1" height="4" fill="#000"/><rect x="389" y="803" width="1" height="4" fill="#000"/><rect x="453" y="803" width="1" height="4" fill="#000"/><rect x="517" y="803" width="1" height="4" fill="#000"/><rect x="581" y="803" width="1" height="4" fill="#000"/><rect x="645" y="803" width="1" height="4" fill="#000"/><rect x="709" y="803" width="1" height="4" fill="#000"/><rect x="773" y="803" width="1" height="4" fill="#000"/><rect x="837" y="803" width="1" height="4" fill="#000"/><rect x="901" y="803" width="1" height="4" fill="#000"/><rect x="965" y="803" width="1" height="4" fill="#000"/><rect x="1029" y="803" width="1" height="4" fill="#000"/><rect x="1093" y="803" width="1" height="4" fill="#000"/><rect x="1157" y="803" width="1" height="4" fill="#000"/><rect x="1221" y="803" width="1" height="4" fill="#000"/><g font-family="'Liberation Sans', sans-serif" font-size="10.2px" fill="#000" stroke="#000" stroke-width="0.18" text-rendering="geometricPrecision" style="white-space:pre"><text transform="translate(1617.60,41.90) scale(0.917,1)">81.735</text><text transform="translate(1617.60,74.90) scale(0.917,1)">81.120</text><text transform="translate(1617.60,107.90) scale(0.917,1)">80.490</text><text transform="translate(1617.60,140.90) scale(0.917,1)">79.875</text><text transform="translate(1617.60,173.90) scale(0.917,1)">79.260</text><text transform="translate(1617.60,206.90) scale(0.917,1)">78.630</text><text transform="translate(1617.60,239.90) scale(0.917,1)">78.015</text><text transform="translate(1617.60,272.90) scale(0.917,1)">77.385</text><text transform="translate(1617.60,305.90) scale(0.917,1)">76.770</text><text transform="translate(1617.60,338.90) scale(0.917,1)">76.140</text><text transform="translate(1617.60,371.90) scale(0.917,1)">75.525</text><text transform="translate(1617.60,404.90) scale(0.917,1)">74.910</text><text transform="translate(1617.60,437.90) scale(0.917,1)">74.280</text><text transform="translate(1617.60,470.90) scale(0.917,1)">73.665</text><text transform="translate(1617.60,503.90) scale(0.917,1)">73.040</text><text transform="translate(1617.60,536.90) scale(0.917,1)">72.420</text><text transform="translate(1617.60,569.90) scale(0.917,1)">71.790</text><text transform="translate(1617.60,602.90) scale(0.917,1)">71.175</text><text transform="translate(1616.20,614.90) scale(0.917,1)">0.5027</text><text transform="translate(1616.20,628.90) scale(0.917,1)">0.00</text><text transform="translate(1616.20,703.40) scale(0.917,1)">-2.0918</text><text transform="translate(1616.20,719.40) scale(0.917,1)">100</text><text transform="translate(1616.20,732.10) scale(0.917,1)">80</text><text transform="translate(1616.20,759.10) scale(0.917,1)">50</text><text transform="translate(1616.20,792.20) scale(0.917,1)">15</text><text transform="translate(1616.20,799.40) scale(0.917,1)">0</text><text transform="translate(4.40,815.00) scale(0.917,1)">25 Apr 2023</text><text transform="translate(68.40,815.00) scale(0.917,1)">26 Apr 08:00</text><text transform="translate(132.40,815.00) scale(0.917,1)">27 Apr 04:00</text><text transform="translate(196.40,815.00) scale(0.917,1)">27 Apr 20:00</text><text transform="translate(260.40,815.00) scale(0.917,1)">28 Apr 12:00</text><text transform="translate(324.40,815.00) scale(0.917,1)">1 May 04:00</text><text transform="translate(388.40,815.00) scale(0.917,1)">1 May 20:00</text><text transform="translate(452.40,815.00) scale(0.917,1)">2 May 12:00</text><text transform="translate(516.40,815.00) scale(0.917,1)">3 May 04:00</text><text transform="translate(580.40,815.00) scale(0.917,1)">3 May 20:00</text><text transform="translate(644.40,815.00) scale(0.917,1)">4 May 12:00</text><text transform="translate(708.40,815.00) scale(0.917,1)">5 May 04:00</text><text transform="translate(772.40,815.00) scale(0.917,1)">5 May 20:00</text><text transform="translate(836.40,815.00) scale(0.917,1)">8 May 12:00</text><text transform="translate(900.40,815.00) scale(0.917,1)">9 May 04:00</text><text transform="translate(964.40,815.00) scale(0.917,1)">9 May 20:00</text><text transform="translate(1028.40,815.00) scale(0.917,1)">10 May 12:00</text><text transform="translate(1092.40,815.00) scale(0.917,1)">11 May 04:00</text><text transform="translate(1156.40,815.00) scale(0.917,1)">11 May 20:00</text><text transform="translate(1220.40,815.00) scale(0.917,1)">12 May 12:00</text><text transform="translate(20.50,38.00) scale(0.917,1)">UKOil-,H4&#160; 74.190 74.245 74.152 74.171</text><text transform="translate(9.00,617.00) scale(0.917,1)">MACD(12,26,9) -0.4501 -0.1665</text><text transform="translate(9.00,721.00) scale(0.917,1)">RSI(14) 37.5584</text><rect x="1614" y="343" width="36" height="11" fill="#ff0000"/><text transform="translate(1617.80,351.90) scale(0.917,1)" fill="#fff" stroke="#fff">75.886</text><rect x="1614" y="379" width="36" height="11" fill="#ff0000"/><text transform="translate(1617.80,387.90) scale(0.917,1)" fill="#fff" stroke="#fff">75.210</text><rect x="1614" y="416" width="36" height="11" fill="#ff8c00"/><text transform="translate(1617.80,424.90) scale(0.917,1)" fill="#fff" stroke="#fff">74.514</text><rect x="1614" y="435" width="36" height="11" fill="#000"/><text transform="translate(1617.80,443.90) scale(0.917,1)" fill="#fff" stroke="#fff">74.171</text><rect x="1614" y="468" width="36" height="11" fill="#0000ff"/><text transform="translate(1617.80,476.90) scale(0.917,1)" fill="#fff" stroke="#fff">73.536</text><rect x="1614" y="496" width="36" height="11" fill="#0000ff"/><text transform="translate(1617.80,504.90) scale(0.917,1)" fill="#fff" stroke="#fff">73.010</text></g></svg>
</body></html>
